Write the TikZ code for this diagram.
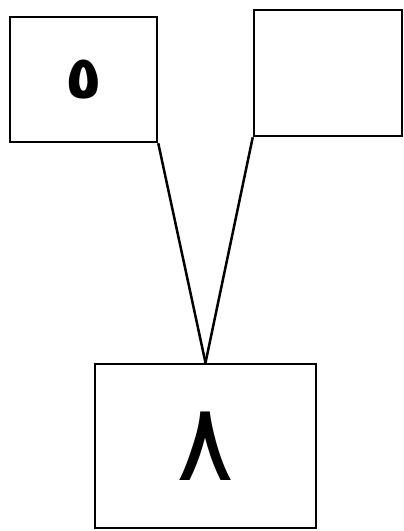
\documentclass[tikz,border=0pt]{standalone}
\usepackage{fontspec}
\newfontfamily\arabicfont[Script=Arabic]{DejaVu Sans}
\TeXXeTstate=1
\begin{document}
\begin{tikzpicture}[x=1pt,y=-1pt,line width=2.5pt,
    every node/.style={font=\arabicfont},
    digitbox/.style={draw,inner sep=0pt}]
    \useasboundingbox (0,0) rectangle (404,531);
    \node[digitbox,minimum width=147pt,minimum height=125pt,font=\arabicfont\bfseries\fontsize{60}{60}\selectfont] (five) at (83.5,79.5) {\beginR ٥\endR};
    \node[digitbox,minimum width=148pt,minimum height=126pt] (empty) at (328,73) {};
    \node[digitbox,minimum width=221pt,minimum height=164pt,font=\arabicfont\fontsize{108}{108}\selectfont] (eight) at (205.5,446) {\beginR ٨\endR};
    \draw (five.south east) -- (eight.north);
    \draw (empty.south west) -- (eight.north);
\end{tikzpicture}
\end{document}
